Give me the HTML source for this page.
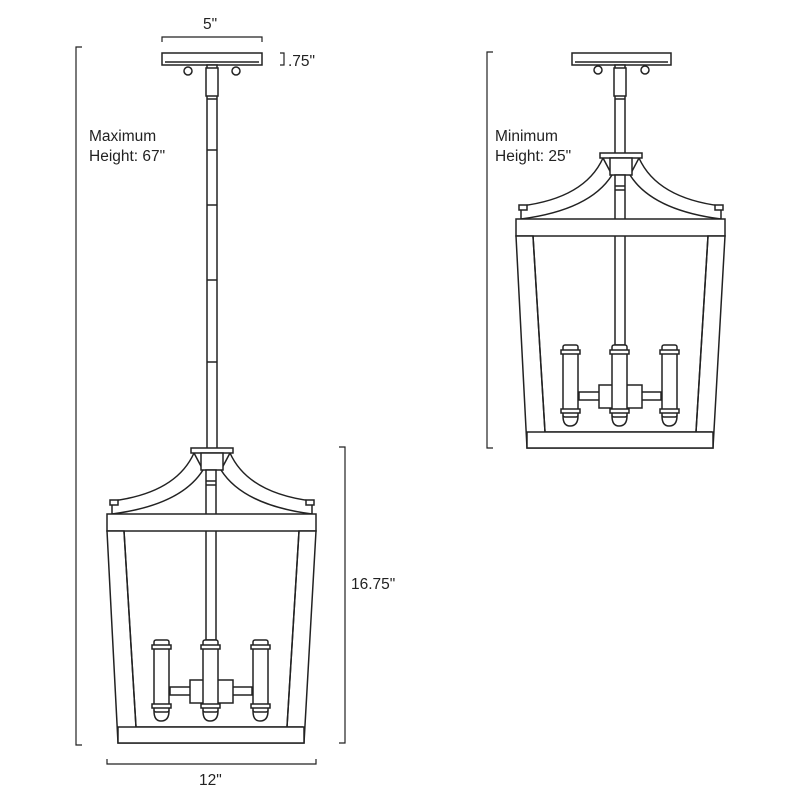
<!DOCTYPE html>
<html><head><meta charset="utf-8"><style>
html,body{margin:0;padding:0;background:#fff;}
svg{display:block}
text{font-family:"Liberation Sans",sans-serif;fill:#222;font-size:15.5px}
</style></head><body>
<svg width="800" height="800" viewBox="0 0 800 800" xmlns="http://www.w3.org/2000/svg">
<defs>
<g id="lan" fill="#fff" stroke="#222" stroke-width="1.5">
  <path d="M603,158 Q585,198 521,206 L521,219 Q590,210 612,175 Z"/>
  <path d="M639,158 Q657,198 721,206 L721,219 Q652,210 630,175 Z"/>
  <rect x="519" y="205" width="8" height="5"/>
  <rect x="715" y="205" width="8" height="5"/>
  <rect x="600" y="153" width="42" height="5"/>
  <rect x="610" y="158" width="22" height="17"/>
  <rect x="615" y="175" width="10" height="170"/>
  <line x1="615" y1="186" x2="625" y2="186"/><line x1="615" y1="190" x2="625" y2="190"/>
  <rect x="516" y="219" width="209" height="17"/>
  <path d="M516,236 L533,236 L545,432 L712,432 L696,432 L708,236 L725,236 L713,448 L527,448 Z"/>
  <path d="M533,236 L545,432 M708,236 L696,432" fill="none"/>
  <rect x="527" y="432" width="186" height="16"/>
  <rect x="579" y="392" width="82" height="8"/>
  <rect x="599" y="385" width="43" height="23"/>
  <g id="cd">
    <path d="M563,416 Q563,426 570,426 Q578,426 578,416 Z"/>
    <rect x="563" y="345" width="15" height="72" rx="2"/>
    <rect x="561" y="350" width="19" height="4"/>
    <rect x="561" y="409" width="19" height="4"/>
  </g>
  <use href="#cd" x="49"/>
  <use href="#cd" x="99"/>
</g>
</defs>

<g fill="#fff" stroke="#222" stroke-width="1.5">
  <rect x="572" y="53" width="99" height="12"/>
  <line x1="575" y1="62" x2="668" y2="62"/>
  <circle cx="598" cy="70" r="4"/><circle cx="645" cy="70" r="4"/>
  <rect x="615" y="65" width="10" height="90"/>
  <rect x="614" y="68" width="12" height="28"/>
  <line x1="615" y1="99" x2="625" y2="99"/>
</g>
<use href="#lan"/>

<g fill="#fff" stroke="#222" stroke-width="1.5">
  <rect x="162" y="53" width="100" height="12"/>
  <line x1="165" y1="62" x2="259" y2="62"/>
  <circle cx="188" cy="71" r="4"/><circle cx="236" cy="71" r="4"/>
  <rect x="207" y="65" width="10" height="385"/>
  <rect x="206" y="68" width="12" height="28"/>
  <line x1="207" y1="99" x2="217" y2="99"/>
  <line x1="207" y1="150" x2="217" y2="150"/>
  <line x1="207" y1="205" x2="217" y2="205"/>
  <line x1="207" y1="280" x2="217" y2="280"/>
  <line x1="207" y1="362" x2="217" y2="362"/>
</g>
<use href="#lan" transform="translate(-409,295)"/>

<g fill="none" stroke="#222" stroke-width="1.2">
  <path d="M162,42 L162,37 L262,37 L262,42"/>
  <path d="M280,53 L284,53 L284,65 L280,65"/>
  <path d="M82,47 L76,47 L76,745 L82,745"/>
  <path d="M339,447 L345,447 L345,743 L339,743"/>
  <path d="M107,759 L107,764 L316,764 L316,759"/>
  <path d="M493,52 L487,52 L487,448 L493,448"/>
</g>
<text x="203" y="29">5"</text>
<text x="288" y="66">.75"</text>
<text x="89" y="141">Maximum</text>
<text x="89" y="161">Height: 67"</text>
<text x="495" y="141">Minimum</text>
<text x="495" y="161">Height: 25"</text>
<text x="351" y="589">16.75"</text>
<text x="199" y="785">12"</text>
</svg>
</body></html>
